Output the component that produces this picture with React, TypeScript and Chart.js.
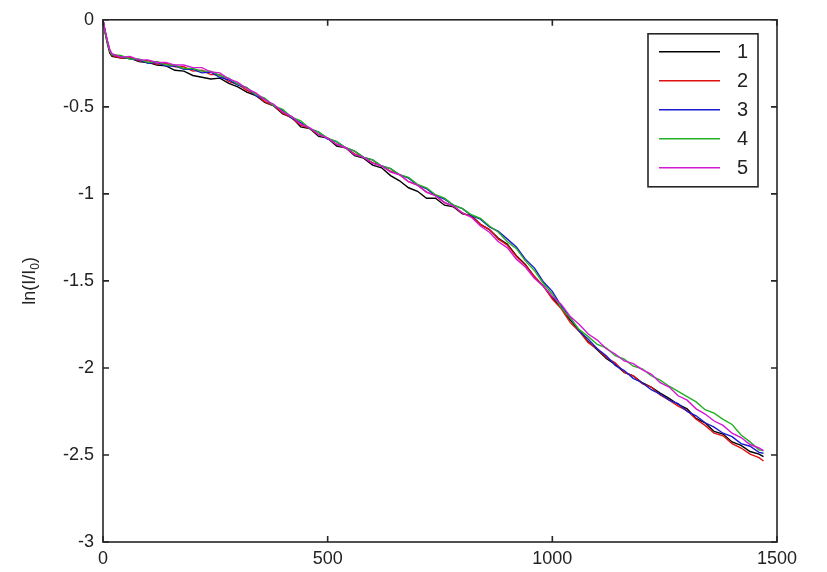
import React, { useEffect, useRef } from 'react';
import { Chart, registerables } from 'chart.js';

Chart.register(...registerables);

const xValues = [
  0, 5, 10, 15, 20, 40, 60, 80, 100, 120,
  140, 160, 180, 200, 220, 240, 260, 280, 300, 320,
  340, 360, 380, 400, 420, 440, 460, 480, 500, 520,
  540, 560, 580, 600, 620, 640, 660, 680, 700, 720,
  740, 760, 780, 800, 820, 840, 860, 880, 900, 920,
  940, 960, 980, 1000, 1020, 1040, 1060, 1080, 1100, 1120,
  1140, 1160, 1180, 1200, 1220, 1240, 1260, 1280, 1300, 1320,
  1340, 1360, 1380, 1400, 1420, 1440, 1460, 1470,
];

const series1 = [
  0, -0.08, -0.14, -0.19, -0.21, -0.22, -0.22, -0.24, -0.245, -0.26,
  -0.265, -0.29, -0.295, -0.32, -0.33, -0.34, -0.335, -0.365, -0.385, -0.415,
  -0.435, -0.475, -0.495, -0.54, -0.56, -0.615, -0.625, -0.67, -0.68, -0.725,
  -0.735, -0.78, -0.795, -0.835, -0.85, -0.895, -0.925, -0.965, -0.985, -1.025,
  -1.025, -1.065, -1.075, -1.115, -1.125, -1.175, -1.205, -1.255, -1.29, -1.355,
  -1.405, -1.475, -1.53, -1.595, -1.655, -1.725, -1.785, -1.85, -1.895, -1.945,
  -1.98, -2.025, -2.045, -2.085, -2.11, -2.145, -2.175, -2.21, -2.235, -2.29,
  -2.315, -2.365, -2.38, -2.425, -2.445, -2.48, -2.495, -2.51,
];

const series2 = [
  0, -0.07, -0.13, -0.18, -0.205, -0.22, -0.215, -0.235, -0.235, -0.255,
  -0.25, -0.27, -0.27, -0.295, -0.29, -0.315, -0.315, -0.355, -0.37, -0.405,
  -0.43, -0.47, -0.495, -0.535, -0.565, -0.605, -0.625, -0.66, -0.68, -0.715,
  -0.735, -0.77, -0.79, -0.82, -0.84, -0.87, -0.89, -0.93, -0.95, -0.99,
  -1.01, -1.05, -1.07, -1.11, -1.13, -1.175, -1.205, -1.26, -1.295, -1.36,
  -1.41, -1.475, -1.53, -1.605, -1.66, -1.74, -1.79, -1.855, -1.89, -1.94,
  -1.97, -2.025, -2.045, -2.09, -2.11, -2.155, -2.185, -2.22, -2.245, -2.295,
  -2.33, -2.375, -2.39, -2.435, -2.46, -2.495, -2.515, -2.535,
];

const series3 = [
  0, -0.07, -0.125, -0.175, -0.2, -0.21, -0.225, -0.23, -0.25, -0.245,
  -0.265, -0.265, -0.285, -0.285, -0.305, -0.3, -0.33, -0.345, -0.375, -0.39,
  -0.435, -0.455, -0.495, -0.52, -0.565, -0.59, -0.625, -0.645, -0.685, -0.7,
  -0.735, -0.755, -0.79, -0.805, -0.84, -0.855, -0.89, -0.91, -0.95, -0.97,
  -1.01, -1.03, -1.065, -1.085, -1.125, -1.145, -1.19, -1.215, -1.26, -1.305,
  -1.375, -1.425, -1.505, -1.56, -1.645, -1.71, -1.79, -1.835, -1.89, -1.93,
  -1.985, -2.015, -2.06, -2.085, -2.125, -2.15, -2.185, -2.205, -2.25, -2.275,
  -2.315, -2.34, -2.375, -2.395, -2.435, -2.45, -2.485, -2.49,
];

const series4 = [
  0, -0.075, -0.13, -0.18, -0.2, -0.205, -0.225, -0.225, -0.245, -0.24,
  -0.26, -0.26, -0.28, -0.28, -0.295, -0.295, -0.32, -0.335, -0.37, -0.39,
  -0.43, -0.45, -0.495, -0.515, -0.56, -0.58, -0.625, -0.645, -0.68, -0.7,
  -0.735, -0.755, -0.79, -0.805, -0.84, -0.855, -0.89, -0.905, -0.945, -0.965,
  -1.005, -1.025, -1.065, -1.085, -1.12, -1.14, -1.185, -1.22, -1.275, -1.315,
  -1.385, -1.44, -1.515, -1.575, -1.655, -1.715, -1.78, -1.82, -1.865, -1.885,
  -1.93, -1.95, -1.99, -2.005, -2.045, -2.07, -2.105, -2.135, -2.165, -2.195,
  -2.24, -2.26, -2.295, -2.325, -2.385, -2.425, -2.47, -2.475,
];

const series5 = [
  0, -0.065, -0.12, -0.17, -0.195, -0.215, -0.21, -0.23, -0.23, -0.245,
  -0.245, -0.26, -0.26, -0.275, -0.275, -0.3, -0.305, -0.34, -0.36, -0.395,
  -0.42, -0.46, -0.485, -0.53, -0.555, -0.6, -0.62, -0.66, -0.68, -0.715,
  -0.735, -0.775, -0.79, -0.825, -0.84, -0.875, -0.89, -0.93, -0.95, -0.99,
  -1.01, -1.05, -1.07, -1.11, -1.135, -1.185, -1.22, -1.275, -1.31, -1.375,
  -1.42, -1.485, -1.53, -1.59, -1.635, -1.705, -1.75, -1.805, -1.84, -1.89,
  -1.92, -1.96, -1.975, -2.01, -2.035, -2.085, -2.11, -2.16, -2.185, -2.235,
  -2.265, -2.305, -2.33, -2.375, -2.4, -2.44, -2.46, -2.475,
];

const seriesLabels = ['1', '2', '3', '4', '5'];
const seriesColors = ['#000000', '#e01010', '#1a1ad0', '#22b022', '#d418d4'];
const xTicks = [0, 500, 1000, 1500];
const yTicks = [0, -0.5, -1, -1.5, -2, -2.5, -3];
const yTitleMain = 'ln(I/I';
const yTitleSub = '0';
const yTitleEnd = ')';

const FONT = '"Liberation Sans", Arial, sans-serif';
const AXIS_COLOR = '#262626';

const framePlugin = {
  id: 'matlabFrame',
  afterDraw(chart: any) {
    const { ctx, chartArea: a, scales } = chart;
    const xs = scales.x;
    const ys = scales.y;
    ctx.save();
    ctx.strokeStyle = AXIS_COLOR;
    ctx.lineWidth = 1.6;
    ctx.strokeRect(a.left, a.top, a.right - a.left, a.bottom - a.top);
    const tl = 6;
    ctx.beginPath();
    xs.ticks.forEach((t: any) => {
      const px = xs.getPixelForValue(t.value);
      ctx.moveTo(px, a.bottom);
      ctx.lineTo(px, a.bottom - tl);
      ctx.moveTo(px, a.top);
      ctx.lineTo(px, a.top + tl);
    });
    ys.ticks.forEach((t: any) => {
      const py = ys.getPixelForValue(t.value);
      ctx.moveTo(a.left, py);
      ctx.lineTo(a.left + tl, py);
      ctx.moveTo(a.right, py);
      ctx.lineTo(a.right - tl, py);
    });
    ctx.stroke();

    // legend box
    const bw = 110;
    const bh = 153;
    const bx = a.right - 19 - bw;
    const by = a.top + 14;
    ctx.fillStyle = '#ffffff';
    ctx.fillRect(bx, by, bw, bh);
    ctx.strokeRect(bx, by, bw, bh);
    chart.data.datasets.forEach((ds: any, i: number) => {
      const ly = by + 18 + i * 29;
      ctx.beginPath();
      ctx.strokeStyle = ds.borderColor;
      ctx.lineWidth = 1.5;
      ctx.moveTo(bx + 11, ly);
      ctx.lineTo(bx + 72, ly);
      ctx.stroke();
      ctx.fillStyle = '#222';
      ctx.font = `20px ${FONT}`;
      ctx.textAlign = 'left';
      ctx.textBaseline = 'middle';
      ctx.fillText(ds.label, bx + 89, ly + 1);
    });

    // y title
    ctx.translate(29, (a.top + a.bottom) / 2);
    ctx.rotate(-Math.PI / 2);
    ctx.fillStyle = '#222';
    ctx.textBaseline = 'alphabetic';
    ctx.textAlign = 'left';
    ctx.font = `18px ${FONT}`;
    const w1 = ctx.measureText(yTitleMain).width;
    const w3 = ctx.measureText(yTitleEnd).width;
    ctx.font = `12px ${FONT}`;
    const w2 = ctx.measureText(yTitleSub).width;
    const total = w1 + w2 + w3;
    let x0 = -total / 2;
    const base = 6;
    ctx.font = `18px ${FONT}`;
    ctx.fillText(yTitleMain, x0, base);
    x0 += w1;
    ctx.font = `12px ${FONT}`;
    ctx.fillText(yTitleSub, x0, base + 4);
    x0 += w2;
    ctx.font = `18px ${FONT}`;
    ctx.fillText(yTitleEnd, x0, base);
    ctx.restore();
  },
};

export default function App() {
  const ref = useRef<HTMLCanvasElement | null>(null);
  useEffect(() => {
    if (!ref.current) return;
    const all = [series1, series2, series3, series4, series5];
    const chart = new Chart(ref.current, {
      type: 'line',
      data: {
        datasets: all.map((s, i) => ({
          label: seriesLabels[i],
          data: xValues.map((x, j) => ({ x, y: s[j] })),
          borderColor: seriesColors[i],
          backgroundColor: seriesColors[i],
          borderWidth: 1.4,
          pointRadius: 0,
          tension: 0,
          fill: false,
          order: 5 - i,
        })),
      },
      options: {
        animation: false,
        responsive: false,
        devicePixelRatio: 1,
        layout: { padding: { left: 0, top: 10, right: 50, bottom: 0 } },
        plugins: { legend: { display: false }, tooltip: { enabled: false } },
        scales: {
          x: {
            type: 'linear',
            min: 0,
            max: 1500,
            afterBuildTicks: (s: any) => {
              s.ticks = xTicks.map((v) => ({ value: v }));
            },
            afterFit: (s: any) => {
              s.height = 30;
            },
            grid: { display: false, drawTicks: false },
            border: { display: false },
            ticks: {
              padding: 6,
              color: '#222',
              font: { family: FONT, size: 18 },
              maxRotation: 0,
              callback: (v: any) => String(v),
            },
          },
          y: {
            type: 'linear',
            min: -3,
            max: 0,
            afterBuildTicks: (s: any) => {
              s.ticks = yTicks.map((v) => ({ value: v }));
            },
            afterFit: (s: any) => {
              s.width = 103;
            },
            grid: { display: false, drawTicks: false },
            border: { display: false },
            ticks: {
              padding: 9,
              color: '#222',
              font: { family: FONT, size: 18 },
              callback: (v: any) => String(v),
            },
          },
        },
      },
      plugins: [framePlugin],
    });
    return () => chart.destroy();
  }, []);
  return (
    <div style={{ position: 'absolute', left: 0, top: 0, width: 827, height: 572, background: '#fff' }}>
      <canvas ref={ref} width={827} height={572} style={{ display: 'block' }} />
    </div>
  );
}
